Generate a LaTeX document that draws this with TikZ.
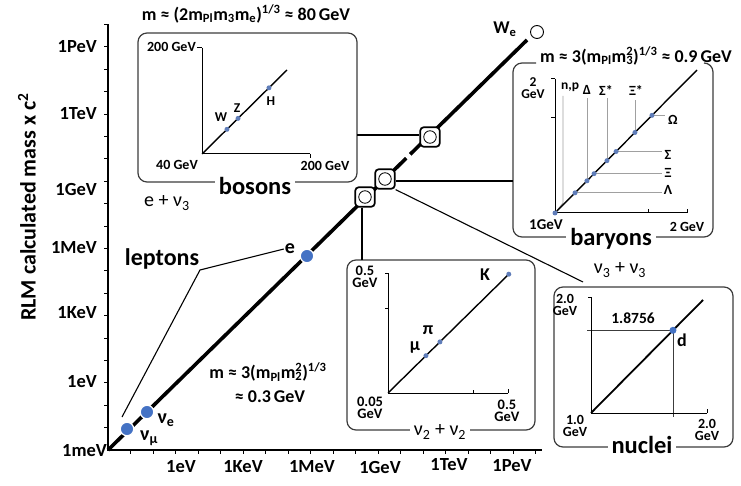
\documentclass[tikz,border=0pt]{standalone}
\usepackage{fontspec}
\setmainfont{Carlito}
\usetikzlibrary{calc}
\definecolor{dotblue}{RGB}{68,114,196}
\definecolor{smdotc}{RGB}{95,125,185}
\definecolor{guidec}{RGB}{160,160,160}
\definecolor{boxc}{RGB}{60,60,60}
\newcommand{\fsz}[1]{\fontsize{#1}{#1}\selectfont}
\newcommand{\fszl}[2]{\fontsize{#1}{#2}\selectfont}
\newcommand{\sqsub}[2]{#1\rlap{\textsubscript{#2}}}
\begin{document}
\begin{tikzpicture}[x=1pt,y=-1pt,
  axisln/.style={line width=1.1pt},
  tickln/.style={line width=0.9pt},
  ticklab/.style={font=\bfseries\fsz{18.5}, inner sep=0pt},
  bigbox/.style={draw=boxc, line width=1.2pt, rounded corners=9pt},
  conn/.style={line width=1.1pt},
  mainline/.style={line width=3.6pt},
  bigdot/.style={circle, fill=dotblue, draw=white, line width=1.2pt, minimum size=13.5pt, inner sep=0pt},
  smdot/.style={circle, fill=smdotc, inner sep=0pt, minimum size=5pt},
  minibox/.style={draw, line width=1.7pt, rounded corners=3.5pt, minimum size=19.5pt, fill=white, inner sep=0pt},
  ring/.style={circle, draw, line width=0.8pt, minimum size=12.5pt, inner sep=0pt},
  boxname/.style={fill=white, inner sep=0pt, inner xsep=4pt, font=\bfseries\fsz{24.5}},
  sumlab/.style={font=\fsz{20}, inner sep=1pt},
  plotln/.style={line width=1.4pt},
  plotax/.style={line width=1pt},
  guide/.style={draw=guidec, line width=0.8pt},
  smlab/.style={font=\bfseries\fsz{14}, inner sep=0pt, align=center},
  twoline/.style={font=\bfseries\fszl{14.5}{12.5}, inner sep=0pt, align=center},
  ptlab/.style={font=\bfseries\fsz{18}, inner sep=0pt},
  formula/.style={font=\bfseries\fsz{18}, inner sep=1pt}
]
\useasboundingbox (0,0) rectangle (741,486);

% ---------- main axes ----------
\coordinate (O) at (108,450);
\coordinate (Ytop) at (108,24.4);
\coordinate (Xend) at (542,450);
\draw[axisln] (Ytop) -- (O) -- (Xend);
\foreach \i in {1,...,19} {
  \draw[tickln] (108,{450-22.4*\i}) -- ++(-4,0);
  \draw[tickln] ({108+22.5*\i},450) -- ++(0,4);
}
\node[ticklab, anchor=east] (yPeV) at (97,47) {1PeV};
\node[ticklab, anchor=east] (yTeV) at (97,114) {1TeV};
\node[ticklab, anchor=east] (yGeV) at (97,190) {1GeV};
\node[ticklab, anchor=east] (yMeV) at (97,248) {1MeV};
\node[ticklab, anchor=east] (yKeV) at (97,313) {1KeV};
\node[ticklab, anchor=east] (yeV) at (97,382) {1eV};
\node[ticklab, anchor=east] (ymeV) at (107,451) {1meV};
\node[ticklab] (xeV) at (181,467) {1eV};
\node[ticklab] (xKeV) at (243,467) {1KeV};
\node[ticklab] (xMeV) at (312,467) {1MeV};
\node[ticklab] (xGeV) at (380,467) {1GeV};
\node[ticklab] (xTeV) at (449,465) {1TeV};
\node[ticklab] (xPeV) at (512,466) {1PeV};
\node[rotate=90, font=\bfseries\fsz{22}, inner sep=0pt] (ytitle) at (27,207) {RLM calculated mass x c\textsuperscript{2}};

% ---------- main diagonal ----------
\coordinate (Dend) at (527,40);
\draw[mainline] (O) -- (Dend);
\draw[white, line width=5pt] ($(O)!0.712!(Dend)$) -- ($(O)!0.721!(Dend)$);

\node[minibox] (bA) at (365,197) {};
\node[ring] at (bA) {};
\node[minibox] (bB) at (385,179) {};
\node[ring] at (bB) {};
\node[minibox] (bC) at (430,137) {};
\node[ring] at (bC) {};
\node[ring, line width=0.9pt, minimum size=13pt] (We) at (537,32) {};
\node[ptlab] (Welab) at (505,29) {W\textsubscript{e}};

% ---------- leptons ----------
\node[bigdot] (numu) at (127,429) {};
\node[bigdot] (nue) at (147,412) {};
\node[bigdot] (edot) at (307,256) {};
\node[font=\bfseries\fsz{20}, inner sep=0pt] (nuelab) at (166,420) {ν\textsubscript{e}};
\node[font=\bfseries\fsz{20}, inner sep=0pt] (numulab) at (149,438) {ν\textsubscript{μ}};
\node[font=\bfseries\fsz{20}, inner sep=1pt] (elab) at (290,249) {e};
\node[font=\bfseries\fsz{24}, inner sep=0pt] (leptons) at (162,259) {leptons};
\coordinate (lj) at (200,270);
\coordinate (lnu) at (122,417);
\draw[conn] (elab.west) -- (lj) -- (lnu);

\node[formula] (f2a) at (268,372) {m ≈ 3(m\textsubscript{Pl}\sqsub{m}{2}\textsuperscript{2})\textsuperscript{1/3}};
\node[formula] (f2b) at (270,397) {≈ 0.3\,GeV};
\node[sumlab] (enu) at (167,203) {e + ν\textsubscript{3}};

% ---------- bosons box ----------
\draw[bigbox] (138,33) rectangle (357,182);
\node[formula] (f3) at (246,14) {m ≈ (2m\textsubscript{Pl}m\textsubscript{3}m\textsubscript{e})\textsuperscript{1/3} ≈ 80\,GeV};
\coordinate (bo) at (202,154);
\coordinate (byt) at (202,48);
\coordinate (bxe) at (310,154);
\coordinate (bde) at (287,70);
\draw[plotax] (byt) -- (bo) -- (bxe);
\draw[plotax] (byt) -- ++(-5,0);
\draw[plotax] (bxe) -- ++(0,4);
\draw[plotln] (bo) -- (bde);
\node[smdot] (Wd) at ($(bo)!0.294!(bde)$) {};
\node[smdot] (Zd) at ($(bo)!0.424!(bde)$) {};
\node[smdot] (Hd) at ($(bo)!0.788!(bde)$) {};
\node[smlab, font=\bfseries\fsz{13.5}] (Wl) at (221,117) {W};
\node[smlab, font=\bfseries\fsz{13.5}] (Zl) at (237,108) {Z};
\node[smlab, font=\bfseries\fsz{13.5}] (Hl) at (271,101) {H};
\node[smlab, anchor=east] (b200y) at (196,47) {200 GeV};
\node[smlab] (b40) at (177,165) {40 GeV};
\node[smlab] (b200x) at (325,166) {200 GeV};
\node[boxname] (bosons) at (255,186) {bosons};

% ---------- baryons box ----------
\draw[bigbox] (536,63) -- (513,63) -- (513,237) -- (713,237) -- (713,63) -- (704,63);
\node[formula] (f4) at (636,56) {m ≈ 3(m\textsubscript{Pl}\sqsub{m}{3}\textsuperscript{2})\textsuperscript{1/3} ≈ 0.9\,GeV};
\coordinate (ro) at (555,213);
\coordinate (ryt) at (555,79);
\coordinate (rxe) at (687,213);
\coordinate (rde) at (697,70);
\draw[guide] (ro) -- (563,203) -- (563,96);
\coordinate (dL) at ($(ro)!0.141!(rde)$);
\coordinate (dD) at ($(ro)!0.225!(rde)$);
\coordinate (dX) at ($(ro)!0.275!(rde)$);
\coordinate (dSs) at ($(ro)!0.366!(rde)$);
\coordinate (dS) at ($(ro)!0.430!(rde)$);
\coordinate (dXs) at ($(ro)!0.563!(rde)$);
\coordinate (dO) at ($(ro)!0.683!(rde)$);
\draw[guide] (dD) -- (dD |- 0,98);
\draw[guide] (dSs) -- (dSs |- 0,98);
\draw[guide] (dXs) -- (dXs |- 0,100);
\draw[guide] (dL) -- (662,0 |- dL);
\draw[guide] (dX) -- (662,0 |- dX);
\draw[guide] (dS) -- (662,0 |- dS);
\draw[guide] (dO) -- (665,0 |- dO);
\draw[plotax] (ryt) -- (ro) -- (rxe);
\draw[plotax] (ryt) -- ++(-4,0);
\draw[plotax] (555,118) -- ++(-4,0);
\draw[plotax] (648,213) -- ++(0,-4);
\draw[plotax] (rxe) -- ++(0,-4);
\draw[plotln] (ro) -- (rde);
\foreach \p in {ro,dL,dD,dX,dSs,dS,dXs,dO} \node[smdot] at (\p) {};
\node[smlab, font=\bfseries\fsz{13.5}] (lnp) at (570,87) {n,p};
\node[smlab] (lDel) at (587,90) {Δ};
\node[smlab] (lSs) at (606,90) {Σ*};
\node[smlab] (lXs) at (636,90) {Ξ*};
\node[smlab] (lOm) at (673,120) {Ω};
\node[smlab] (lSig) at (668,155) {Σ};
\node[smlab] (lXi) at (668,173) {Ξ};
\node[smlab] (lLam) at (668,190) {Λ};
\node[twoline, font=\bfseries\fszl{13.5}{12}] (r2y) at (533,88) {2\\GeV};
\node[smlab, font=\bfseries\fsz{15}] (r1g) at (546,225) {1GeV};
\node[smlab] (r2x) at (687,227) {2 GeV};
\node[boxname] (baryons) at (611,239) {baryons};

% ---------- mesons box ----------
\draw[bigbox] (347,260) rectangle (535,430);
\coordinate (mo) at (388,393);
\coordinate (myt) at (388,273);
\coordinate (mxe) at (508,393);
\coordinate (mde) at (510,273);
\draw[plotax] (myt) -- (mo) -- (mxe);
\draw[plotax] (myt) -- ++(-3,0);
\draw[plotax] (388,308) -- ++(-3,0);
\draw[plotax] (473,393) -- ++(0,-3);
\draw[plotax] (mxe) -- ++(0,-4);
\draw[plotln] (mo) -- (mde);
\node[smdot] (mud) at ($(mo)!0.311!(mde)$) {};
\node[smdot] (pid) at ($(mo)!0.426!(mde)$) {};
\node[smdot] (Kd) at ($(mo)!0.99!(mde)$) {};
\node[ptlab] (mul) at (415,348) {μ};
\node[ptlab] (pil) at (428,330) {π};
\node[ptlab] (Kl) at (485,275) {K};
\node[twoline] (m05y) at (365,277) {0.5\\GeV};
\node[twoline] (m005) at (370,408) {0.05\\GeV};
\node[twoline] (m05x) at (507,411) {0.5\\GeV};
\node[boxname, font=\fsz{20}] (nu2) at (440,432) {ν\textsubscript{2} + ν\textsubscript{2}};

% ---------- nuclei box ----------
\draw[bigbox] (554,287) rectangle (733,447);
\coordinate (no) at (591,413);
\coordinate (nyt) at (591,297);
\coordinate (nxe) at (707,413);
\coordinate (nde) at (703,300);
\coordinate (dd) at ($(no)!0.732!(nde)$);
\draw[line width=0.9pt, draw=boxc] (587,0 |- dd) -- (dd) -- (dd |- 0,417);
\draw[plotax] (nyt) -- (no) -- (nxe);
\draw[plotax] (nyt) -- ++(-3,0);
\draw[plotax] (nxe) -- ++(0,-4);
\draw[line width=1.8pt] (no) -- (nde);
\node[smdot, fill=dotblue, minimum size=7pt] (ddot) at (dd) {};
\node[ptlab] (dl) at (682,340) {d};
\node[smlab, font=\bfseries\fsz{15.5}] (n18) at (633,318) {1.8756};
\node[twoline, font=\bfseries\fszl{14}{11.5}] (n2y) at (565,305) {2.0\\GeV};
\node[twoline, font=\bfseries\fszl{14}{11.5}] (n1) at (575,426) {1.0\\GeV};
\node[twoline, font=\bfseries\fszl{14}{11.5}] (n2x) at (707,430) {2.0\\GeV};
\node[boxname] (nuclei) at (642,445) {nuclei};
\node[sumlab] (nu3) at (620,270) {ν\textsubscript{3} + ν\textsubscript{3}};

% ---------- connectors ----------
\coordinate (nuctop) at (583,282);
\draw[conn] (bC.west) ++(0,-2) -- (357,135);
\draw[conn] (bB.east) ++(0,2) -- (513,181);
\draw[conn] (bB.south east) -- (nuctop);
\draw[conn] (bA.south) ++(-3,0) -- (362,260);
\end{tikzpicture}
\end{document}
